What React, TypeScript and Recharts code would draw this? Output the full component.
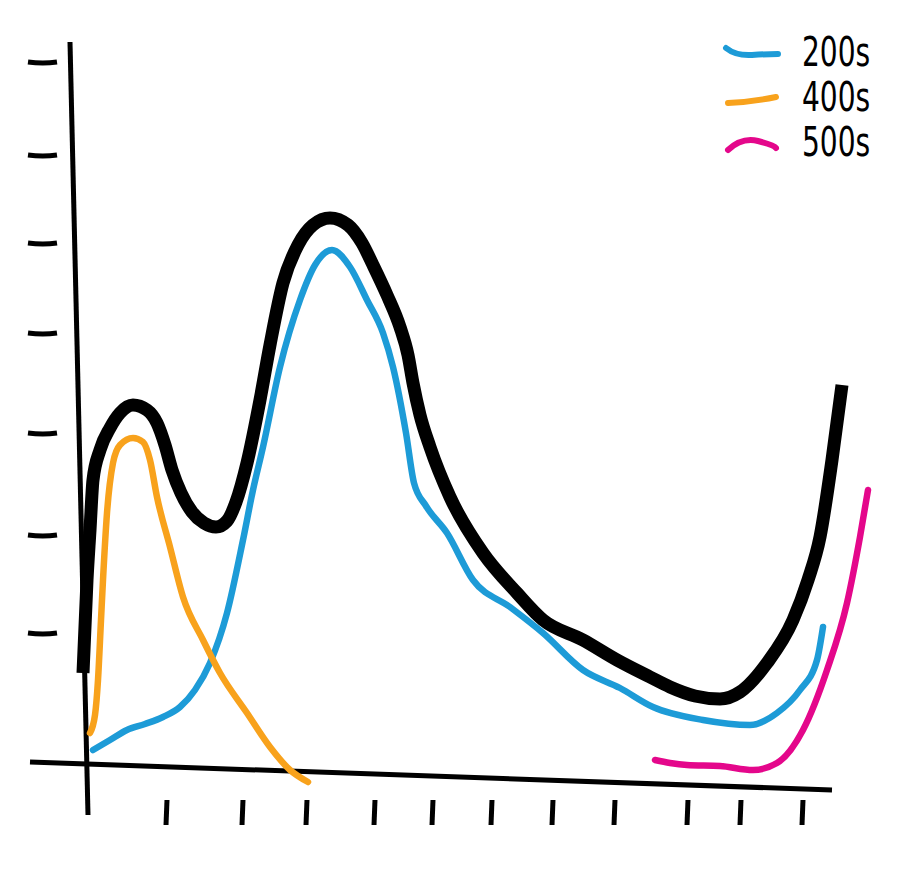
import { LineChart, Line, XAxis, YAxis, ReferenceLine, Legend } from 'recharts';

// tick marks (no labels in the sketch)
const xTicks = [7.8, 15.4, 21.8, 28.6, 34.4, 40.3, 46.4, 52.6, 59.9, 65.2, 71.4];
const yTicks = [13.5, 23.3, 33.5, 43.5, 52.5, 61.3, 70.6];

// thick black envelope
const totalCurve = [
  { x: -0.5, y: 9.5 }, { x: -0.1, y: 18.8 }, { x: 0.2, y: 23.8 }, { x: 0.5, y: 28.8 },
  { x: 1.2, y: 31.8 }, { x: 2.2, y: 34.0 }, { x: 3.2, y: 35.5 }, { x: 4.5, y: 36.3 },
  { x: 5.9, y: 35.8 }, { x: 6.9, y: 34.5 }, { x: 7.7, y: 32.3 }, { x: 8.4, y: 29.8 },
  { x: 9.3, y: 27.5 }, { x: 10.4, y: 25.6 }, { x: 11.6, y: 24.5 }, { x: 12.8, y: 24.1 },
  { x: 13.9, y: 24.7 }, { x: 14.8, y: 26.6 }, { x: 15.9, y: 30.5 }, { x: 17.2, y: 36.8 },
  { x: 18.2, y: 42.3 }, { x: 19.5, y: 48.5 }, { x: 21.0, y: 52.3 }, { x: 22.5, y: 54.3 },
  { x: 24.2, y: 55.0 }, { x: 26.0, y: 54.3 }, { x: 27.4, y: 52.5 }, { x: 28.5, y: 50.3 },
  { x: 29.9, y: 47.3 }, { x: 31.2, y: 44.1 }, { x: 32.0, y: 41.3 }, { x: 32.5, y: 38.5 },
  { x: 33.2, y: 35.3 }, { x: 34.2, y: 32.1 }, { x: 36.2, y: 27.1 }, { x: 39.5, y: 21.5 },
  { x: 42.9, y: 17.5 }, { x: 45.5, y: 14.8 }, { x: 49.5, y: 12.8 }, { x: 52.9, y: 10.8 },
  { x: 56.2, y: 9.1 }, { x: 58.2, y: 8.1 }, { x: 60.7, y: 7.2 }, { x: 63.2, y: 6.9 },
  { x: 65.2, y: 7.6 }, { x: 67.9, y: 10.5 }, { x: 70.5, y: 14.8 }, { x: 72.0, y: 18.8 },
  { x: 73.2, y: 23.1 }, { x: 74.4, y: 30.8 }, { x: 75.4, y: 38.3 },
];

const series200 = [
  { x: 0.5, y: 1.8 }, { x: 2.2, y: 2.8 }, { x: 3.9, y: 3.8 }, { x: 5.7, y: 4.4 },
  { x: 7.5, y: 5.1 }, { x: 9.2, y: 6.1 }, { x: 10.7, y: 7.8 }, { x: 12.2, y: 10.5 },
  { x: 13.9, y: 15.5 }, { x: 15.5, y: 22.8 }, { x: 16.5, y: 27.8 }, { x: 17.5, y: 32.1 },
  { x: 19.2, y: 40.1 }, { x: 21.2, y: 46.8 }, { x: 22.7, y: 50.3 }, { x: 24.4, y: 51.8 },
  { x: 26.2, y: 50.1 }, { x: 27.9, y: 46.8 }, { x: 29.5, y: 43.5 }, { x: 30.5, y: 40.1 },
  { x: 31.8, y: 33.5 }, { x: 32.6, y: 28.5 }, { x: 33.8, y: 26.2 }, { x: 35.9, y: 23.5 },
  { x: 38.5, y: 18.8 }, { x: 42.2, y: 16.1 }, { x: 45.5, y: 13.5 }, { x: 49.5, y: 9.8 },
  { x: 53.2, y: 8.0 }, { x: 56.5, y: 6.1 }, { x: 61.5, y: 4.8 }, { x: 66.2, y: 4.3 },
  { x: 68.9, y: 5.5 }, { x: 71.2, y: 7.8 }, { x: 72.9, y: 10.8 }, { x: 73.5, y: 14.1 },
];

const series400 = [
  { x: 0.2, y: 3.5 }, { x: 0.7, y: 5.3 }, { x: 1.0, y: 8.8 }, { x: 1.3, y: 14.8 },
  { x: 1.5, y: 18.8 }, { x: 1.9, y: 25.5 }, { x: 2.5, y: 30.5 }, { x: 3.2, y: 32.3 },
  { x: 4.5, y: 33.0 }, { x: 5.5, y: 32.6 }, { x: 6.2, y: 30.8 }, { x: 6.9, y: 27.1 },
  { x: 8.2, y: 22.1 }, { x: 9.5, y: 17.1 }, { x: 11.5, y: 12.8 }, { x: 13.2, y: 9.5 },
  { x: 15.9, y: 5.5 }, { x: 18.2, y: 2.1 }, { x: 20.2, y: -0.2 }, { x: 22.0, y: -1.4 },
];

const series500 = [
  { x: 56.7, y: 0.8 }, { x: 58.2, y: 0.5 }, { x: 59.9, y: 0.3 }, { x: 63.2, y: 0.2 },
  { x: 66.5, y: -0.2 }, { x: 68.9, y: 0.5 }, { x: 71.5, y: 3.8 }, { x: 73.9, y: 9.8 },
  { x: 75.9, y: 16.5 }, { x: 77.2, y: 23.1 }, { x: 78.0, y: 27.8 },
];

// hand-drawn axis strokes
const xAxisStroke = [{ x: -5.8, y: 0.6 }, { x: 74.4, y: -2.2 }];
const yAxisStroke = [{ x: -1.8, y: 72.6 }, { x: 0, y: -4.7 }];

const BLUE = '#1d9bd7';
const ORANGE = '#f8a21c';
const PINK = '#e4078b';

const swatch: Record<string, string> = {
  '200s': 'M4 7 Q 14 15 30 14 T 56 13',
  '400s': 'M6 17 Q 30 16 54 11',
  '500s': 'M6 19 Q 20 6 36 10 T 54 17',
};

const XTick = (props: any) => {
  const { x, y } = props;
  return <path d={`M${x + 1} ${y - 18} L${x} ${y + 7}`} stroke="#000" strokeWidth={5} strokeLinecap="butt" fill="none" />;
};

const YTick = (props: any) => {
  const { x, y } = props;
  return <path d={`M${x} ${y} Q ${x + 15} ${y + 2} ${x + 29} ${y}`} stroke="#000" strokeWidth={5} fill="none" />;
};

const renderLegend = (props: any) => {
  const items = (props.payload || []).filter((p: any) => p.type !== 'none');
  return (
    <div>
      {items.map((p: any) => (
        <div key={p.value} style={{ display: 'flex', alignItems: 'center', height: 45 }}>
          <svg width={62} height={24} style={{ marginRight: 18 }}>
            <path d={swatch[p.value]} stroke={p.color} strokeWidth={6} strokeLinecap="round" fill="none" />
          </svg>
          <span style={{
            display: 'inline-block',
            fontFamily: '"DejaVu Sans Condensed", "DejaVu Sans", sans-serif',
            fontSize: 40, lineHeight: '45px', color: '#000',
            transform: 'scaleX(0.78)', transformOrigin: 'left center',
          }}>{p.value}</span>
        </div>
      ))}
    </div>
  );
};

export default function App() {
  return (
    <div style={{ position: 'absolute', left: 0, top: 0, background: '#fff' }}>
      <LineChart width={900} height={880} margin={{ top: 42, right: 12, bottom: 0, left: 0 }}>
        <XAxis
          type="number" dataKey="x" domain={[-6, 80]} ticks={xTicks} interval={0}
          axisLine={false} tickLine={false} tickSize={0} tickMargin={0} height={62}
          allowDataOverflow tick={<XTick />}
        />
        <YAxis
          type="number" dataKey="y" domain={[-5, 72.6]} ticks={yTicks} interval={0}
          axisLine={false} tickLine={false} tickSize={0} tickMargin={0} width={28}
          allowDataOverflow tick={<YTick />}
        />
        <ReferenceLine segment={yAxisStroke} stroke="#000" strokeWidth={5} />
        <ReferenceLine segment={xAxisStroke} stroke="#000" strokeWidth={5} />
        <Legend
          layout="horizontal" align="center" verticalAlign="middle"
          wrapperStyle={{ top: 30, left: 722, width: 178 }}
          content={renderLegend}
        />
        <Line data={totalCurve} dataKey="y" name="total" legendType="none" type="monotone"
          stroke="#000" strokeWidth={13} dot={false} activeDot={false} isAnimationActive={false} />
        <Line data={series200} dataKey="y" name="200s" type="monotone"
          stroke={BLUE} strokeWidth={6.5} strokeLinecap="round" dot={false} activeDot={false} isAnimationActive={false} />
        <Line data={series400} dataKey="y" name="400s" type="monotone"
          stroke={ORANGE} strokeWidth={6.5} strokeLinecap="round" dot={false} activeDot={false} isAnimationActive={false} />
        <Line data={series500} dataKey="y" name="500s" type="monotone"
          stroke={PINK} strokeWidth={6.5} strokeLinecap="round" dot={false} activeDot={false} isAnimationActive={false} />
      </LineChart>
    </div>
  );
}
